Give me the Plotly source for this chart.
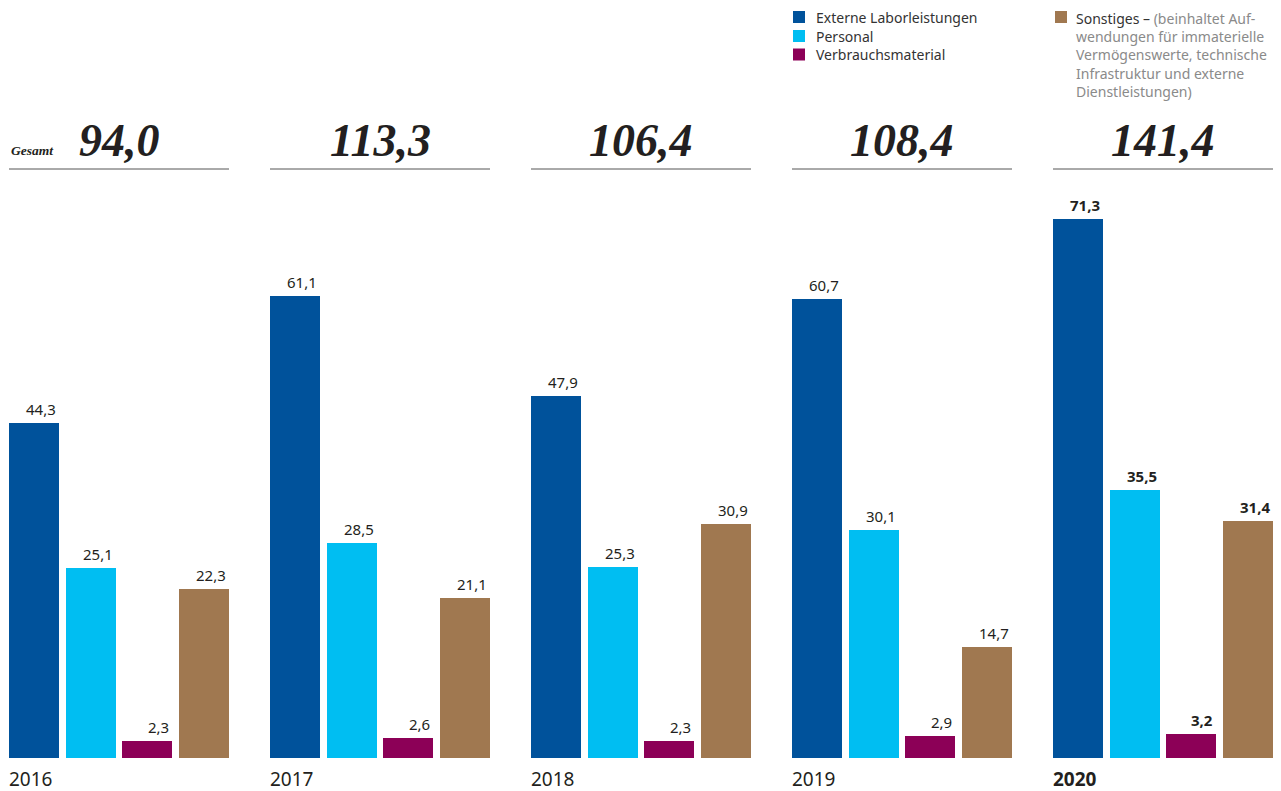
import plotly.graph_objects as go

# --- data -------------------------------------------------------------
years = ["2016", "2017", "2018", "2019", "2020"]
totals = [94.0, 113.3, 106.4, 108.4, 141.4]
series_names = ["Externe Laborleistungen", "Personal", "Verbrauchsmaterial", "Sonstiges"]
externe = [44.3, 61.1, 47.9, 60.7, 71.3]
personal = [25.1, 28.5, 25.3, 30.1, 35.5]
verbrauch = [2.3, 2.6, 2.3, 2.9, 3.2]
sonstiges = [22.3, 21.1, 30.9, 14.7, 31.4]
sonstiges_note = ("(beinhaltet Auf-<br>wendungen für immaterielle<br>Vermögenswerte, technische"
                  "<br>Infrastruktur und externe<br>Dienstleistungen)")
total_label = "Gesamt"

series_values = [externe, personal, verbrauch, sonstiges]
colors = ["#00529B", "#00BEF2", "#8C0057", "#A07850"]

# --- layout geometry (pixels) -----------------------------------------
W, H = 1281, 791
BASE = 758            # pixel row of the bar baseline
K = 7.56              # pixels per unit
GROUP_X0, GROUP_STEP, GROUP_W = 9, 261, 220
BAR_W, BAR_STEP = 50, 56.67


def py(pix):
    """pixel row -> data y"""
    return (BASE - pix) / K


def fmt(v):
    return f"{v:.1f}".replace(".", ",")


SANS = "Noto Sans"
SERIF = "Liberation Serif"
DARK = "#231f20"

fig = go.Figure()
annotations = []
shapes = []

for j, (name, vals, col) in enumerate(zip(series_names, series_values, colors)):
    xs = [GROUP_X0 + GROUP_STEP * g + BAR_W / 2 + BAR_STEP * j for g in range(len(years))]
    fig.add_trace(go.Bar(x=xs, y=vals, width=BAR_W, marker=dict(color=col, line=dict(width=0)),
                         name=name, showlegend=False, hoverinfo="y"))
    for g, (x, v) in enumerate(zip(xs, vals)):
        last = g == len(years) - 1
        annotations.append(dict(
            x=x + BAR_W / 2 - 1, y=v, xref="x", yref="y", text=fmt(v),
            xanchor="right", yanchor="bottom", yshift=2, showarrow=False,
            font=dict(family=SANS, size=15, color=DARK, weight="bold" if last else "normal")))

for g, (yr, tot) in enumerate(zip(years, totals)):
    gx0 = GROUP_X0 + GROUP_STEP * g
    last = g == len(years) - 1
    # year label below the baseline
    annotations.append(dict(
        x=gx0 - 2, y=py(779), xref="x", yref="y", text=yr, xanchor="left", yanchor="middle",
        showarrow=False, font=dict(family=SANS, size=19, color=DARK,
                                   weight="bold" if last else "normal")))
    # total above the rule
    annotations.append(dict(
        x=gx0 + GROUP_W / 2, y=py(140), xref="x", yref="y", text=f"<i><b>{fmt(tot)}</b></i>",
        xanchor="center", yanchor="middle", showarrow=False,
        font=dict(family=SERIF, size=46, color=DARK)))
    shapes.append(dict(type="line", xref="x", yref="y", x0=gx0, x1=gx0 + GROUP_W,
                       y0=py(169), y1=py(169), line=dict(color="#555555", width=1)))

annotations.append(dict(
    x=GROUP_X0, y=py(150), xref="x", yref="y", text=f"<i><b>{total_label}</b></i>",
    xanchor="left", yanchor="middle", showarrow=False,
    font=dict(family=SERIF, size=13.5, color=DARK)))

# --- legend drawn as swatches + text -----------------------------------
LEG_ROWS = [17, 36, 54.5]
for name, col, row in zip(series_names[:3], colors[:3], LEG_ROWS):
    shapes.append(dict(type="rect", xref="x", yref="y", x0=793, x1=805,
                       y0=py(row - 6), y1=py(row + 6), fillcolor=col, line=dict(width=0)))
    annotations.append(dict(x=814, y=py(row), xref="x", yref="y", text=name,
                            xanchor="left", yanchor="middle", showarrow=False,
                            font=dict(family=SANS, size=14, color="#333333")))

shapes.append(dict(type="rect", xref="x", yref="y", x0=1055, x1=1067,
                   y0=py(11), y1=py(23), fillcolor=colors[3], line=dict(width=0)))
annotations.append(dict(
    x=1074, y=py(7), xref="x", yref="y",
    text=f"{series_names[3]} – <span style='color:#8a8a8a'>{sonstiges_note}</span>",
    xanchor="left", yanchor="top", align="left", showarrow=False,
    font=dict(family=SANS, size=14, color="#333333")))

fig.update_layout(
    width=W, height=H, margin=dict(l=0, r=0, t=0, b=0),
    paper_bgcolor="white", plot_bgcolor="white",
    xaxis=dict(range=[0, W], visible=False, fixedrange=True),
    yaxis=dict(range=[py(H), py(0)], visible=False, fixedrange=True),
    bargap=0, annotations=annotations, shapes=shapes, showlegend=False,
)

fig.write_html("out.html")
